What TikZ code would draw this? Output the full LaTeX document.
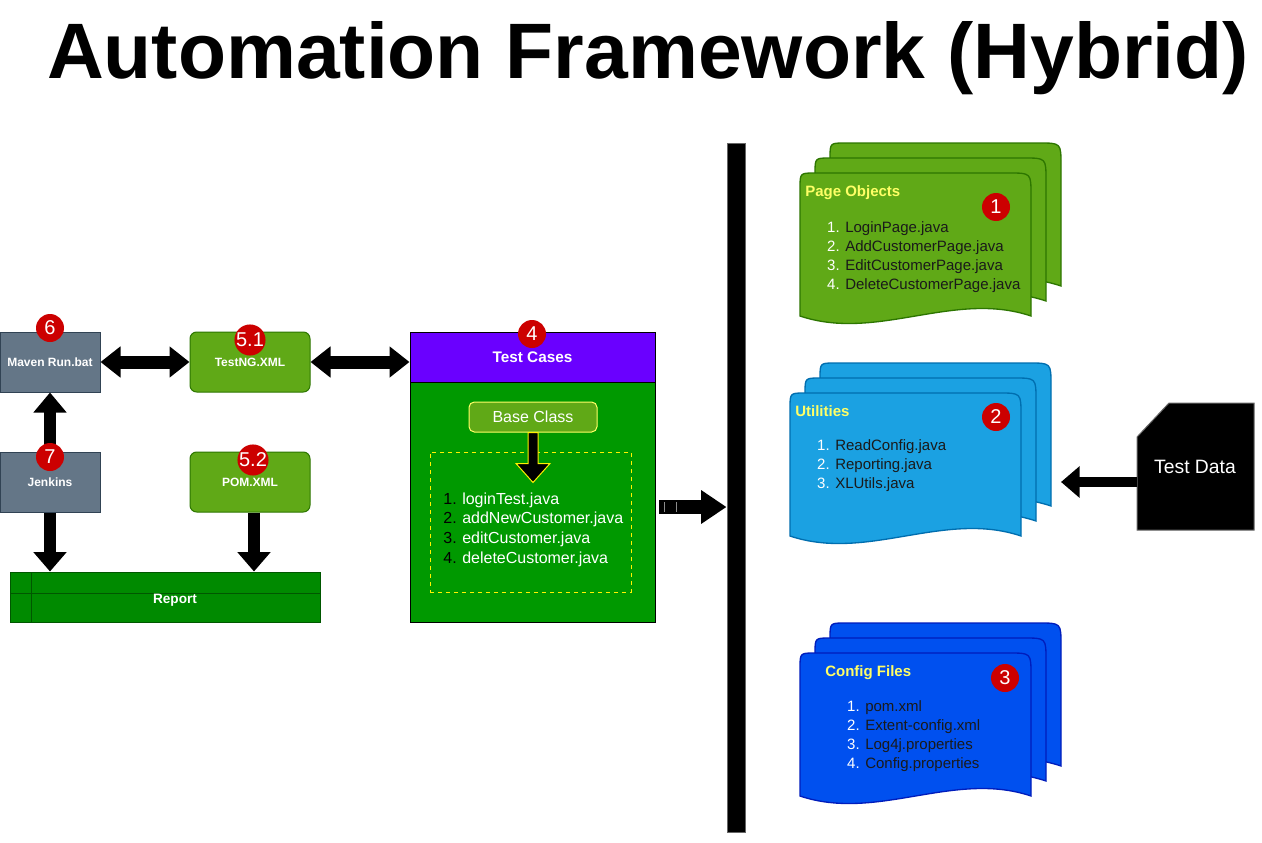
\documentclass[tikz,border=0pt]{standalone}
\usepackage{fontspec}
\setmainfont{Liberation Sans}
\usetikzlibrary{arrows.meta,calc}
\definecolor{slateF}{HTML}{647687}
\definecolor{slateD}{HTML}{314354}
\definecolor{grF}{HTML}{60A917}
\definecolor{grD}{HTML}{2D7600}
\definecolor{repF}{HTML}{008A00}
\definecolor{repD}{HTML}{005700}
\definecolor{tcF}{HTML}{009900}
\definecolor{tcH}{HTML}{6A00FF}
\definecolor{utF}{HTML}{1BA1E2}
\definecolor{utD}{HTML}{006EAF}
\definecolor{cfF}{HTML}{0050EF}
\definecolor{cfD}{HTML}{001DBC}
\definecolor{badgeR}{HTML}{CC0000}
\definecolor{ttlY}{HTML}{FFFF66}
\definecolor{darktxt}{HTML}{1A1A1A}
\newcommand{\docshape}[6]{%
  \filldraw[fill=#5,draw=#6,line width=1pt]
  (#1,#2+#4) -- (#1,#2+15) .. controls (#1,#2) .. (#1+15,#2)
  -- (#1+#3-22,#2) .. controls (#1+#3,#2) .. (#1+#3,#2+22)
  -- (#1+#3,#2+#4) .. controls (#1+#3*2/3,#2+#4-26) and (#1+#3/3,#2+#4+26) .. (#1,#2+#4) -- cycle;}
\newcommand{\litem}[7]{%
  \node[anchor=base east, text=#5, inner sep=0pt] (#7n) at (#1-5,#2) {#3};
  \node[anchor=base west, text=#6, inner sep=0pt] (#7t) at (#1,#2) {#4};}
\begin{document}
\begin{tikzpicture}[x=0.75pt,y=-0.75pt,
  lbl/.style={text=white, font=\bfseries\fontsize{9}{11}\selectfont, inner sep=0pt},
  slatebox/.style={lbl, draw=slateD, fill=slateF, line width=0.75pt, minimum width=75pt, minimum height=45pt},
  greenbox/.style={lbl, draw=grD, fill=grF, line width=0.75pt, rounded corners=5pt, minimum width=90pt, minimum height=45pt},
  badge/.style={circle, fill=badgeR, text=white, minimum size=21pt, inner sep=0pt, font=\fontsize{15}{15}\selectfont},
  bigarrow/.style={line width=9.75pt, line cap=butt, draw=black},
  listfont/.style={font=\fontsize{11.25}{13}\selectfont},
  doctitle/.style={anchor=base west, text=ttlY, inner sep=0pt, font=\bfseries\fontsize{11.25}{13}\selectfont}]
\useasboundingbox (0,0) rectangle (1262,842);
\fill[white] (0,0) rectangle (1262,842);

% title
\node[anchor=base, inner sep=0pt, font=\bfseries\fontsize{59}{64}\selectfont] (title) at (648,79) {Automation Framework (Hybrid)};

% left side
\node[slatebox] (maven) at (50,362) {Maven Run.bat};
\node[greenbox] (testng) at (250,362) {TestNG.XML};
\node[slatebox] (jenkins) at (50,482) {Jenkins};
\node[greenbox] (pom) at (250,482) {POM.XML};
\node[draw=repD, fill=repF, line width=0.75pt, minimum width=232.5pt, minimum height=37.5pt, inner sep=0pt] (report) at (165,597) {};
\draw[repD, line width=0.75pt] (31,572) -- (31,622);
\draw[repD, line width=0.75pt] (10,593) -- (320,593);
\node[lbl, font=\bfseries\fontsize{10.2}{12}\selectfont] (reportlbl) at (175,600) {Report};

% test cases
\node[draw=black, fill=tcH, line width=0.75pt, minimum width=183.75pt, minimum height=37.5pt, inner sep=0pt, text=white, font=\bfseries\fontsize{11.5}{13}\selectfont] (tch) at (532.5,357) {Test Cases};
\node[draw=black, fill=tcF, line width=0.75pt, minimum width=183.75pt, minimum height=180pt, inner sep=0pt] (tcb) at (532.5,502) {};
\node[draw=ttlY, fill=grF, line width=0.75pt, rounded corners=4pt, minimum width=96pt, minimum height=22.5pt, inner sep=0pt, text=white, font=\fontsize{12}{14}\selectfont] (base) at (533,417) {Base Class};
\node[draw=yellow, dashed, line width=0.6pt, minimum width=150.75pt, minimum height=105pt, inner sep=0pt] (dash) at (530.5,522) {};
\filldraw[fill=black, draw=yellow, line width=0.75pt]
  ($(base.south)+(-5,0)$) -- ($(base.south)+(-5,31)$) -- ($(base.south)+(-17,31)$)
  -- ($(base.south)+(0,50)$) -- ($(base.south)+(17,31)$) -- ($(base.south)+(5,31)$)
  -- ($(base.south)+(5,0)$) -- cycle;
\begin{scope}[font=\fontsize{12}{14}\selectfont]
\litem{462}{504}{1.}{loginTest.java}{black}{white}{tc1}
\litem{462}{523}{2.}{addNewCustomer.java}{black}{white}{tc2}
\litem{462}{543}{3.}{editCustomer.java}{black}{white}{tc3}
\litem{462}{563}{4.}{deleteCustomer.java}{black}{white}{tc4}
\end{scope}

% bar
\node[draw=black!60, fill=black, line width=0.75pt, minimum width=13.5pt, minimum height=516.75pt, inner sep=0pt] (bar) at (736,487.5) {};

% arrows left
\draw[bigarrow, {Triangle[length=15pt,width=22.5pt]}-{Triangle[length=15pt,width=22.5pt]}] (maven.east) -- (testng.west);
\draw[bigarrow, {Triangle[length=15pt,width=22.5pt]}-{Triangle[length=15pt,width=22.5pt]}] (testng.east) -- (testng.east -| tch.west);
\draw[bigarrow, line width=9pt, -{Triangle[length=15pt,width=24pt]}] (jenkins.north) -- (maven.south);
\draw[bigarrow, line width=9pt, -{Triangle[length=14.5pt,width=24pt]}] (jenkins.south) -- (jenkins.south |- report.north);
\coordinate (pomout) at ($(pom.south)+(4,0)$);
\draw[bigarrow, line width=9pt, -{Triangle[length=14.5pt,width=24pt]}] (pomout) -- (pomout |- report.north);

% badges (on top of arrows)
\node[badge] (b6) at (50,328) {6};
\node[badge] (b51) at (250,340) {5.1};
\node[badge] (b7) at (50,457) {7};
\node[badge] (b52) at (253,460) {5.2};
\node[badge] (b4) at (532,334) {4};

% arrow test cases -> bar
\coordinate (tcout) at (659,507);
\draw[bigarrow, line width=10.5pt, -{Triangle[length=19pt,width=24pt]}] (tcout) -- (tcout -| bar.west);
\draw[black!45, line width=0.5pt] (664,502) -- (664,512) (676,502) -- (676,512);

% documents
\docshape{830}{143}{231}{143}{grF}{grD}
\docshape{815}{158}{231}{143}{grF}{grD}
\docshape{800}{173}{231}{143}{grF}{grD}
\node[doctitle] (potitle) at (805,196) {Page Objects};
\node[badge] (b1) at (996,207) {1};
\begin{scope}[listfont]
\litem{845}{232}{1.}{LoginPage.java}{white}{darktxt}{po1}
\litem{845}{251}{2.}{AddCustomerPage.java}{white}{darktxt}{po2}
\litem{845}{270}{3.}{EditCustomerPage.java}{white}{darktxt}{po3}
\litem{845}{289}{4.}{DeleteCustomerPage.java}{white}{darktxt}{po4}
\end{scope}

\docshape{820}{363}{231}{143}{utF}{utD}
\docshape{805}{378}{231}{143}{utF}{utD}
\docshape{790}{393}{231}{143}{utF}{utD}
\node[doctitle] (uttitle) at (795,416) {Utilities};
\node[badge] (b2) at (996,417) {2};
\begin{scope}[listfont]
\litem{835}{450}{1.}{ReadConfig.java}{white}{darktxt}{ut1}
\litem{835}{469}{2.}{Reporting.java}{white}{darktxt}{ut2}
\litem{835}{488}{3.}{XLUtils.java}{white}{darktxt}{ut3}
\end{scope}

\docshape{830}{623}{231}{143}{cfF}{cfD}
\docshape{815}{638}{231}{143}{cfF}{cfD}
\docshape{800}{653}{231}{143}{cfF}{cfD}
\node[doctitle] (cftitle) at (825,676) {Config Files};
\node[badge] (b3) at (1005,678) {3};
\begin{scope}[listfont]
\litem{865}{711}{1.}{pom.xml}{white}{darktxt}{cf1}
\litem{865}{730}{2.}{Extent-config.xml}{white}{darktxt}{cf2}
\litem{865}{749}{3.}{Log4j.properties}{white}{darktxt}{cf3}
\litem{865}{768}{4.}{Config.properties}{white}{darktxt}{cf4}
\end{scope}

% test data
\filldraw[fill=black, draw=black!60, line width=0.75pt] (1137,437) -- (1169,403) -- (1254,403) -- (1254,530) -- (1137,530) -- cycle;
\node[text=white, inner sep=0pt, font=\fontsize{14.5}{16}\selectfont] (td) at (1195,467) {Test Data};
\coordinate (tdw) at (1137,482);
\coordinate (utin) at (1061,482);
\draw[bigarrow, line width=8pt, -{Triangle[length=14pt,width=23pt]}] (tdw) -- (utin);
\end{tikzpicture}
\end{document}
